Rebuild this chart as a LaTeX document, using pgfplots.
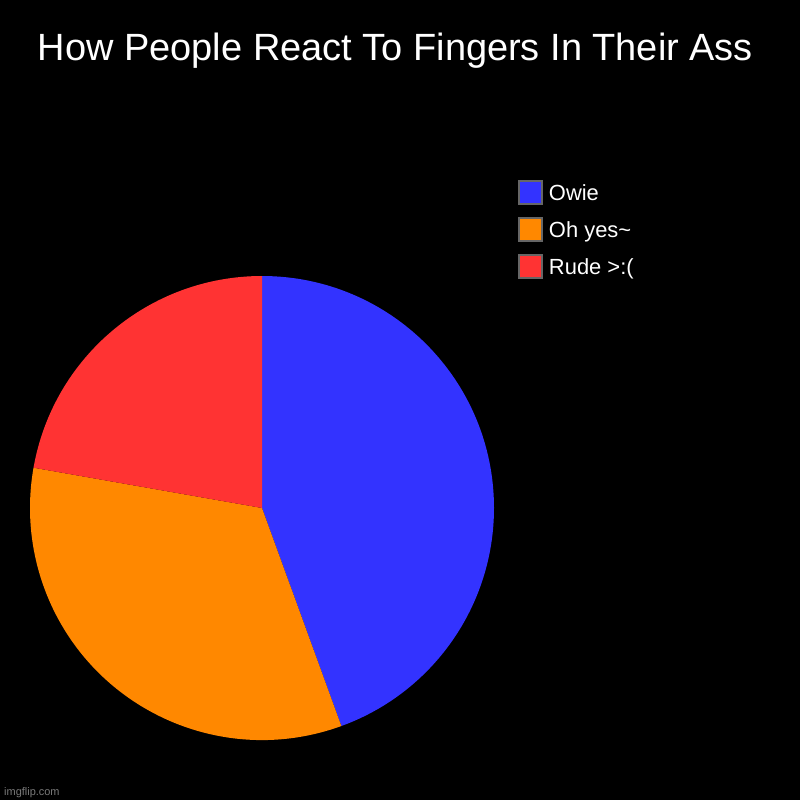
\documentclass[border=0pt]{standalone}
\usepackage{pgfplots}
\pgfplotsset{compat=1.18}
\usepackage{pgfplotstable}
\usepackage{fontspec}
\setmainfont{Liberation Sans}
\definecolor{owie}{HTML}{3333FF}
\definecolor{ohyes}{HTML}{FF8800}
\definecolor{rude}{HTML}{FF3333}
\definecolor{legbox}{HTML}{666666}
\definecolor{mark}{HTML}{7A7A7A}

% slice values, in legend order (clockwise from 12 o'clock)
\pgfplotstableread{
value color
4 owie
3 ohyes
2 rude
}\pie

\begin{document}
\begin{tikzpicture}
\fill[black] (0,0) rectangle (800bp,800bp);
\begin{axis}[
    width=800bp, height=800bp, scale only axis,
    xmin=0, xmax=800, ymin=0, ymax=800, y dir=reverse,
    hide axis,
    legend style={
        at={(axis cs:518.2,175)}, anchor=north west,
        draw=none, fill=none, text=white, inner sep=0pt,
        font=\fontsize{22}{26}\selectfont,
        nodes={inner sep=0pt, text height=25bp, text depth=12bp},
        /tikz/every odd column/.append style={column sep=6bp},
    },
    legend cell align=left,
    legend image code/.code={
        \draw[#1, draw=legbox, line width=1.6bp] (0bp,-10.5bp) rectangle (23bp,12.5bp);
    },
]
% total of all slices
\pgfmathsetmacro{\total}{0}
\pgfplotstablegetrowsof{\pie}
\pgfmathtruncatemacro{\nrows}{\pgfplotsretval-1}
\pgfplotsinvokeforeach{0,...,\nrows}{
    \pgfplotstablegetelem{#1}{value}\of\pie
    \pgfmathsetmacro{\total}{\total+\pgfplotsretval}
    \global\let\total\total
}
\gdef\startang{90}
\pgfplotsinvokeforeach{0,...,\nrows}{
    \pgfplotstablegetelem{#1}{value}\of\pie
    \pgfmathsetmacro{\endang}{\startang-360*\pgfplotsretval/\total}
    \pgfplotstablegetelem{#1}{color}\of\pie
    \edef\slice{\noexpand\fill[\pgfplotsretval] (axis cs:262,508) -- ++(\startang:232bp)
        arc[start angle=\startang, end angle=\endang, radius=232bp] -- cycle;}
    \slice
    \global\let\startang\endang
}
\addlegendimage{fill=owie}
\addlegendentry{Owie}
\addlegendimage{fill=ohyes}
\addlegendentry{Oh yes\textasciitilde}
\addlegendimage{fill=rude}
\addlegendentry{Rude >:(}
\node[text=white, anchor=base, inner sep=0pt, font=\fontsize{38.1}{45}\selectfont]
    at (axis cs:395.5,60) {How People React To Fingers In Their Ass};
\node[text=mark, anchor=base west, inner sep=0pt, font=\fontsize{11}{13}\selectfont]
    at (axis cs:4,795) {imgflip.com};
\end{axis}
\end{tikzpicture}
\end{document}
